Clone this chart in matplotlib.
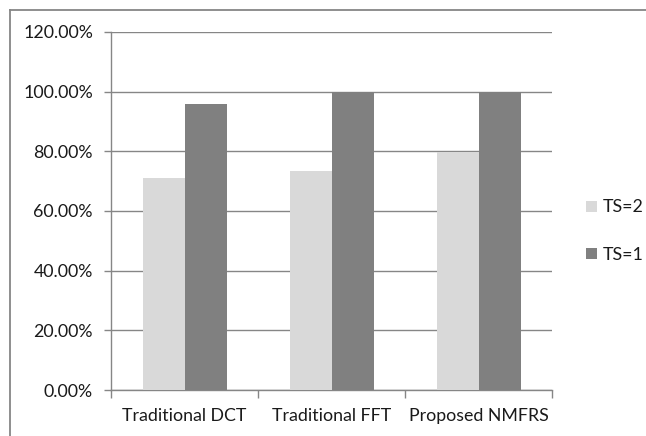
import matplotlib
matplotlib.use("Agg")
import matplotlib.pyplot as plt
from matplotlib.lines import Line2D
from matplotlib.ticker import FuncFormatter, MultipleLocator
import numpy as np

categories = ["Traditional DCT", "Traditional FFT", "Proposed NMFRS"]
series_names = ["TS=2", "TS=1"]
ts2_values = [0.712, 0.734, 0.798]
ts1_values = [0.959, 1.0, 1.0]
series_colors = ["#d9d9d9", "#808080"]

plt.rcParams["font.family"] = ["Lato", "DejaVu Sans"]

W, H = 646, 436
fig = plt.figure(figsize=(W / 100, H / 100), dpi=100)
ax = fig.add_axes([111 / W, 1 - 390 / H, (552 - 111) / W, (390 - 32) / H])

x = np.arange(len(categories))
bar_w = 42 / 147
ax.bar(x - bar_w / 2, ts2_values, width=bar_w, color=series_colors[0], label=series_names[0], zorder=3)
ax.bar(x + bar_w / 2, ts1_values, width=bar_w, color=series_colors[1], label=series_names[1], zorder=3)

ax.set_xlim(-0.5, len(categories) - 0.5)
ax.set_ylim(0, 1.2)
ax.yaxis.set_major_locator(MultipleLocator(0.2))
ax.yaxis.set_major_formatter(FuncFormatter(lambda v, _: f"{v * 100:.2f}%"))
ax.grid(axis="y", color="#868686", linewidth=1.0, zorder=0)

ax.set_xticks(x)
ax.set_xticklabels(categories)
ax.set_xticks(np.arange(-0.5, len(categories)), minor=True)
ax.tick_params(axis="x", which="major", length=0, pad=13, labelsize=12.8, colors="#1a1a1a")
ax.tick_params(axis="x", which="minor", length=6, width=1, color="#868686")
ax.tick_params(axis="y", length=5, width=1, color="#868686", pad=8, labelsize=12.8, labelcolor="#1a1a1a")

for side in ("top", "right"):
    ax.spines[side].set_visible(False)
for side in ("left", "bottom"):
    ax.spines[side].set_color("#868686")
    ax.spines[side].set_linewidth(1.0)

ax.legend(loc="center left", bbox_to_anchor=(570 / W, 1 - 231 / H), bbox_transform=fig.transFigure,
          frameon=False, handlelength=0.6, handleheight=0.6, handletextpad=0.35,
          labelspacing=1.75, fontsize=12.8, labelcolor="#1a1a1a")

# Outer chart frame: top and left edges
fig.add_artist(Line2D([10 / W, 1], [1 - 10 / H, 1 - 10 / H], transform=fig.transFigure, color="#868686", linewidth=1.3))
fig.add_artist(Line2D([10 / W, 10 / W], [0, 1 - 10 / H], transform=fig.transFigure, color="#868686", linewidth=1.3))

fig.savefig("out.png", dpi=100)
